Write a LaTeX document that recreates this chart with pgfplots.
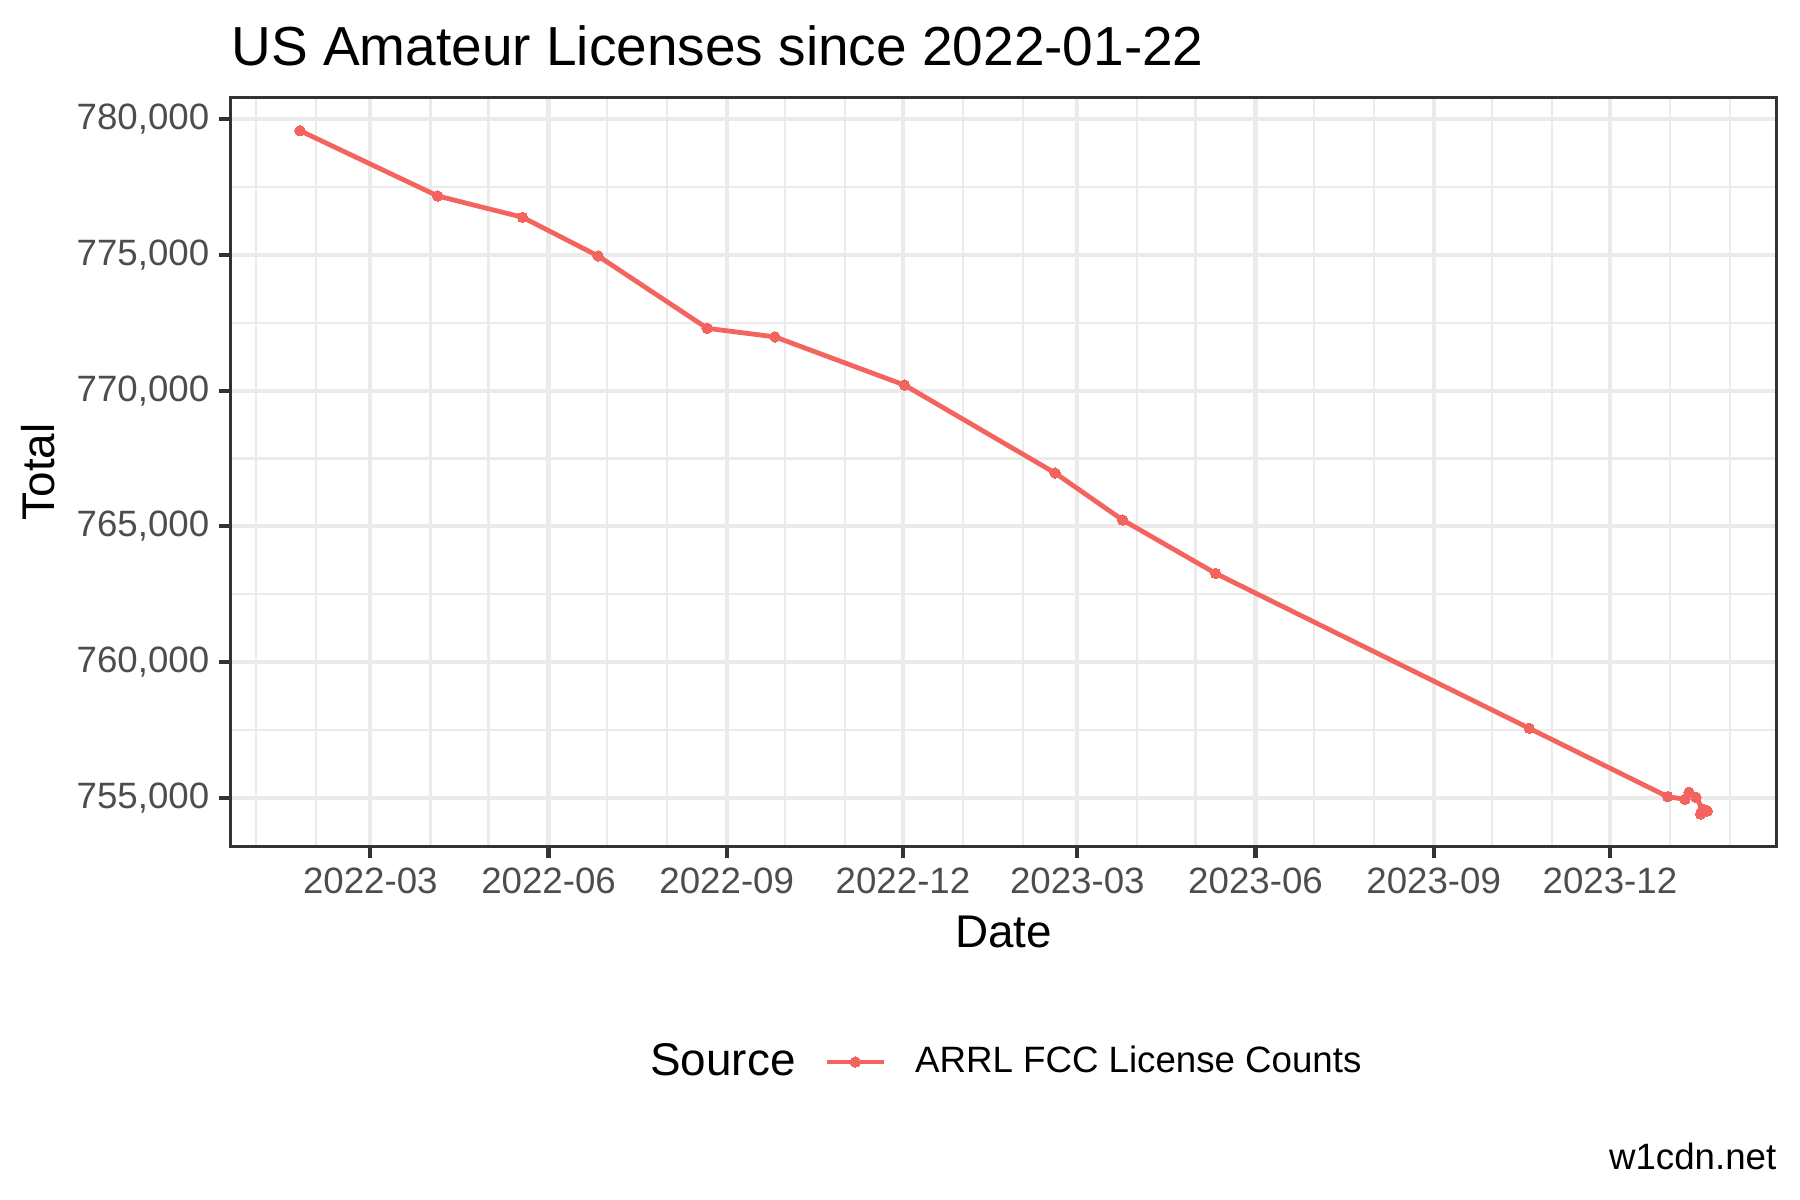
\documentclass[border=0pt]{standalone}
\usepackage{fontspec}
\setmainfont{Liberation Sans}
\usepackage{pgfplots}
\pgfplotsset{compat=1.18}

\definecolor{ggred}{HTML}{F4645E}
\definecolor{grid92}{HTML}{EBEBEB}
\definecolor{grey20}{HTML}{333333}
\definecolor{grey30}{HTML}{4D4D4D}

% x = days since 2022-01-01
\begin{document}
\begin{tikzpicture}
\useasboundingbox (0,0) rectangle (432pt,288pt);
\begin{axis}[
    at={(55.37pt,84.84pt)}, anchor=south west,
    scale only axis, width=371.1pt, height=179.8pt,
    xmin=-13.1, xmax=785.2,
    ymin=753214, ymax=780799,
    xtick={59,151,243,334,424,516,608,699},
    xticklabels={2022-03,2022-06,2022-09,2022-12,2023-03,2023-06,2023-09,2023-12},
    minor xtick={0,31,90,120,181,212,273,304,365,396,455,485,546,577,638,669,730,761},
    ytick={755000,760000,765000,770000,775000,780000},
    minor ytick={757500,762500,767500,772500,777500},
    scaled y ticks=false,
    /pgf/number format/assume math mode=true,
    yticklabel={\pgfmathprintnumber[fixed,1000 sep={,}]{\tick}},
    grid=both,
    major grid style={draw=grid92, line width=1.0pt},
    minor grid style={draw=grid92, line width=0.53pt},
    axis line style={draw=grey20, line width=0.7pt},
    tick align=outside, xtick pos=bottom, ytick pos=left,
    major tick length=2.75pt, minor tick length=0pt,
    major tick style={draw=grey20, line width=1.0pt},
    minor tick style={draw=none},
    ticklabel style={font=\fontsize{8.8}{10}\selectfont, text=grey30, inner sep=0pt},
    xticklabel style={anchor=north, yshift=-2.2pt},
    yticklabel style={anchor=east, xshift=-2.2pt},
    every axis title shift=0pt,
    title={US Amateur Licenses since 2022-01-22},
    title style={at={(axis description cs:0,1.0426)}, anchor=base west, inner sep=0pt,
        font=\fontsize{13.2}{15.8}\selectfont},
    xlabel={Date},
    xlabel style={at={(axis description cs:0.5,-0.1343)}, anchor=base, inner sep=0pt,
        font=\fontsize{11}{13.2}\selectfont},
    ylabel={Total},
    ylabel style={at={(axis description cs:-0.1244,0.5)}, anchor=center, inner sep=0pt,
        font=\fontsize{11}{13.2}\selectfont},
    legend style={at={(axis description cs:0.3838,-0.2878)}, anchor=west,
        draw=none, fill=none, inner sep=0pt, outer sep=0pt,
        font=\fontsize{8.8}{10}\selectfont,
        nodes={inner sep=0pt},
        /tikz/every odd column/.append style={column sep=6.9pt}},
    legend cell align=left,
    legend image code/.code={\draw[mark repeat=2,mark phase=2,#1]
        plot coordinates {(0pt,0pt) (6.9pt,0pt) (13.8pt,0pt)};},
]
\addplot[color=ggred, line width=1.15pt, mark=*, mark size=1.25pt,
    mark options={draw=ggred, fill=ggred, line width=0pt}] coordinates {
    (22.7,779570) (93.8,777165) (137.6,776381) (176.6,774956)
    (232.9,772294) (267.9,771977) (334.8,770203) (412.5,766966)
    (447.4,765236) (495.4,763269) (657.3,757566) (728.8,755048)
    (737.7,754952) (739.8,755210) (743.4,755026) (746.9,754584)
    (745.8,754411) (749.2,754521)
};
\addlegendentry{ARRL FCC License Counts}
\end{axis}
\node[anchor=base west, inner sep=0pt, font=\fontsize{11}{13.2}\selectfont] at (155.9pt,29.9pt) {Source};
\node[anchor=base east, inner sep=0pt, font=\fontsize{8.8}{10}\selectfont] at (426.5pt,7.25pt) {w1cdn.net};
\end{tikzpicture}
\end{document}
